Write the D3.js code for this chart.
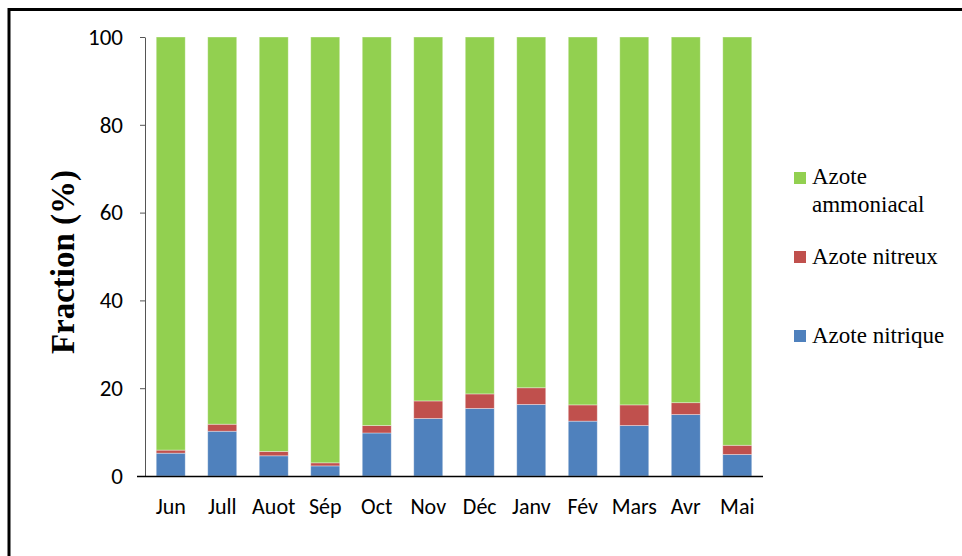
<!DOCTYPE html>
<html><head><meta charset="utf-8">
<script src="https://cdn.jsdelivr.net/npm/d3@7"></script>
<style>body{margin:0;background:#fff}svg{display:block}</style>
</head><body>
<svg id="c" width="962" height="556"></svg>
<script>
const months = ["Jun","Jull","Auot","Sép","Oct","Nov","Déc","Janv","Fév","Mars","Avr","Mai"];
const nitrique = [5.2,10.2,4.6,2.3,9.8,13.1,15.4,16.3,12.5,11.5,14.0,4.9];
const nitreux  = [0.7,1.6,1.0,0.7,1.7,4.0,3.3,3.8,3.7,4.7,2.7,2.1];
const yTicks = [0,20,40,60,80,100];
const seriesNames = ["Azote nitrique","Azote nitreux","Azote ammoniacal"];
const colors = ["#4F81BD","#C0504D","#92D050"];

const ammoniacal = months.map((m,i)=> +(100 - nitrique[i] - nitreux[i]).toFixed(2));
const table = months.map((m,i)=>({month:m, "Azote nitrique":nitrique[i], "Azote nitreux":nitreux[i], "Azote ammoniacal":ammoniacal[i]}));

const svg = d3.select("#c");
const sans = "Carlito, 'Open Sans', 'Noto Sans', sans-serif";
const serif = "'Liberation Serif','Times New Roman',serif";
// frame
svg.append("path").attr("d","M9,556 V9.5 H962").attr("fill","none").attr("stroke","#000").attr("stroke-width",3);

const x = d3.scaleBand().domain(months).range([145,763]).paddingInner(0.437).paddingOuter(0.218);
const y = d3.scaleLinear().domain([0,100]).range([476,37]);

const stack = d3.stack().keys(seriesNames)(table);
svg.append("g").selectAll("g").data(stack).join("g")
  .attr("fill",(d,i)=>colors[i])
  .selectAll("rect").data(d=>d).join("rect")
  .attr("x",d=>x(d.data.month)).attr("width",x.bandwidth())
  .attr("y",d=>y(d[1])).attr("height",d=>y(d[0])-y(d[1]))
  .attr("stroke","rgba(255,255,255,0.45)").attr("stroke-width",0.8);

// y axis
const ya = svg.append("g").attr("transform","translate(145,0)")
  .call(d3.axisLeft(y).tickValues(yTicks).tickSize(5).tickPadding(17).tickSizeOuter(0));
ya.select(".domain").attr("stroke","#555");
ya.selectAll(".tick line").attr("stroke","#555");
ya.selectAll("text").attr("font-family",sans).attr("font-size",23).attr("fill","#000");

// x axis
const xa = svg.append("g").attr("transform","translate(0,476)")
  .call(d3.axisBottom(x).tickSize(0).tickPadding(22));
xa.select(".domain").attr("stroke","#000").attr("stroke-width",1.5).attr("d","M137,0.5H763");
xa.selectAll("text").attr("font-family",sans).attr("font-size",22).attr("fill","#000");

// y title
svg.append("text").attr("transform","translate(74,262) rotate(-90)")
  .attr("text-anchor","middle").attr("font-family",serif)
  .attr("font-weight","bold").attr("font-size",33).text("Fraction (%)");

// legend
const legend = [
  {i:2, sq:172, lines:[["Azote",184],["ammoniacal",212]]},
  {i:1, sq:251, lines:[["Azote nitreux",264]]},
  {i:0, sq:330, lines:[["Azote nitrique",343]]}
];
const lg = svg.append("g");
legend.forEach(l=>{
  lg.append("rect").attr("x",794).attr("y",l.sq).attr("width",12).attr("height",12).attr("fill",colors[l.i]);
  l.lines.forEach(([t,b])=>{
    lg.append("text").attr("x",812).attr("y",b).attr("font-family",serif)
      .attr("font-size",23).attr("fill","#000").text(t);
  });
});
</script>
</body></html>
